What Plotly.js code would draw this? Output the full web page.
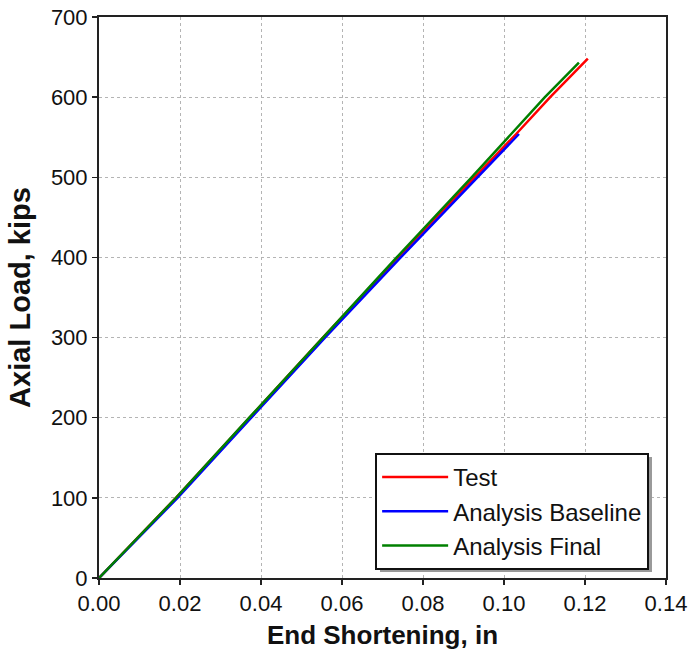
<!DOCTYPE html>
<html>
<head>
<meta charset="utf-8">
<script src="https://cdn.plot.ly/plotly-3.0.1.min.js"></script>
<style>html,body{margin:0;padding:0;background:#fff;}#chart{width:691px;height:651px;}</style>
</head>
<body>
<div id="chart"></div>
<script>
// End shortening (in) and axial load (kips)
const testX = [0, 0.0190, 0.0372, 0.0553, 0.0738, 0.0928, 0.1030, 0.1114, 0.1207];
const testY = [0, 100, 200, 300, 400, 500, 554, 600, 648];

const baseX = [0, 0.0194, 0.0376, 0.0558, 0.0745, 0.0934, 0.1037];
const baseY = [0, 100, 200, 300, 400, 500, 554];

const finalX = [0, 0.0190, 0.0371, 0.0552, 0.0735, 0.0920, 0.1101, 0.1185];
const finalY = [0, 100, 200, 300, 400, 500, 600, 643];

const seriesNames = ["Test", "Analysis Baseline", "Analysis Final"];
const seriesColors = ["#ff0000", "#0000ff", "#008000"];

const xTicks = [0, 0.02, 0.04, 0.06, 0.08, 0.10, 0.12, 0.14];
const xTickText = ["0.00", "0.02", "0.04", "0.06", "0.08", "0.10", "0.12", "0.14"];
const yTicks = [0, 100, 200, 300, 400, 500, 600, 700];

const font = "Liberation Sans, Arial, sans-serif";

const traces = [
  {x: testX, y: testY, name: seriesNames[0]},
  {x: baseX, y: baseY, name: seriesNames[1]},
  {x: finalX, y: finalY, name: seriesNames[2]}
].map((t, i) => Object.assign(t, {
  type: "scatter", mode: "lines",
  line: {color: seriesColors[i], width: 2.5}
}));

const axisCommon = {
  showline: true, linecolor: "#222", linewidth: 2, mirror: true,
  ticks: "outside", ticklen: 5, tickwidth: 1.5, tickcolor: "#222",
  showgrid: true, gridcolor: "#b4b4b4", gridwidth: 1, griddash: "dot",
  zeroline: false,
  tickfont: {family: font, size: 22, color: "#111"}
};

const layout = {
  width: 691, height: 651,
  margin: {l: 99, r: 25, t: 17, b: 73},
  paper_bgcolor: "#fff", plot_bgcolor: "#fff",
  showlegend: true,
  xaxis: Object.assign({}, axisCommon, {
    range: [0, 0.14], tickvals: xTicks, ticktext: xTickText,
    title: {text: "End Shortening, in", font: {family: font, size: 26, color: "#111", weight: "bold"}, standoff: 10}
  }),
  yaxis: Object.assign({}, axisCommon, {
    range: [0, 700], tickvals: yTicks,
    title: {text: "Axial Load, kips", font: {family: font, size: 29, color: "#111", weight: "bold"}, standoff: 12}
  }),
  legend: {
    x: 0.487, y: 0.2228, xanchor: "left", yanchor: "top",
    bgcolor: "#fff", bordercolor: "#111", borderwidth: 2,
    font: {family: font, size: 24, color: "#111"},
    itemwidth: 66,
    tracegroupgap: 0
  },
  shapes: [{
    type: "rect", xref: "paper", yref: "paper",
    x0: 0.4956, x1: 0.9753, y0: 0.0107, y1: 0.2157,
    fillcolor: "#9a9a9a", line: {width: 0}, layer: "above"
  }]
};

Plotly.newPlot("chart", traces, layout, {displayModeBar: false, staticPlot: true});
</script>
</body>
</html>
